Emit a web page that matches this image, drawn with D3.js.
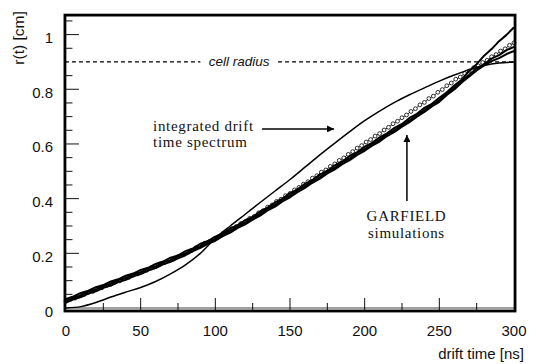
<!DOCTYPE html>
<html>
<head>
<meta charset="utf-8">
<script src="https://cdn.jsdelivr.net/npm/d3@7"></script>
<style>
  html, body { margin: 0; padding: 0; background: #fff; }
  svg { display: block; }
</style>
</head>
<body>
<svg id="chart" width="536" height="364"></svg>
<script>
// ---- Data -------------------------------------------------------------
// Integrated drift-time spectrum r(t)
const spectrumTime = [0,10,20,30,40,50,60,70,80,90,100,110,120,130,140,150,160,170,180,190,200,210,220,230,240,250,260,270,280,290,300];
const spectrumR = [0,0.005,0.02,0.04,0.058,0.075,0.097,0.125,0.158,0.2,0.255,0.3,0.343,0.386,0.428,0.47,0.515,0.56,0.603,0.645,0.685,0.72,0.752,0.78,0.805,0.83,0.852,0.872,0.887,0.896,0.9];

// GARFIELD simulations (solid, noisy curves)
const garfieldTime = [0,5,10,15,20,25,30,35,40,45,50,55,60,65,70,75,80,85,90,95,100,105,110,115,120,125,130,135,140,145,150,155,160,165,170,175,180,185,190,195,200,205,210,215,220,225,230,235,240,245,250,255,260,265,270,275,280,285,290,295,300];
const garfieldLow = [0.020,0.032,0.040,0.053,0.061,0.074,0.082,0.095,0.103,0.116,
  0.124,0.137,0.146,0.160,0.169,0.182,0.193,0.208,0.220,0.235,
  0.246,0.263,0.276,0.293,0.306,0.323,0.338,0.357,0.371,0.390,
  0.405,0.424,0.439,0.458,0.473,0.492,0.507,0.526,0.541,0.560,
  0.575,0.594,0.609,0.629,0.644,0.663,0.680,0.700,0.717,0.737,
  0.754,0.779,0.799,0.825,0.847,0.869,0.887,0.903,0.914,0.929,0.940];
const garfieldMid = [0.024,0.038,0.046,0.060,0.067,0.081,0.088,0.102,0.109,0.123,
  0.130,0.144,0.152,0.167,0.175,0.189,0.199,0.215,0.226,0.242,
  0.252,0.270,0.282,0.300,0.312,0.330,0.344,0.364,0.377,0.397,
  0.411,0.431,0.445,0.465,0.479,0.499,0.513,0.533,0.547,0.567,
  0.581,0.601,0.615,0.636,0.650,0.670,0.686,0.707,0.723,0.744,
  0.760,0.786,0.805,0.832,0.853,0.876,0.892,0.912,0.925,0.943,0.955];
const garfieldHigh = [0.033,0.042,0.055,0.063,0.076,0.084,0.097,0.105,0.118,0.126,
  0.139,0.147,0.161,0.170,0.184,0.192,0.208,0.218,0.235,0.245,
  0.261,0.273,0.291,0.303,0.321,0.333,0.353,0.367,0.386,0.400,
  0.420,0.434,0.454,0.468,0.488,0.502,0.522,0.536,0.556,0.570,
  0.590,0.604,0.624,0.639,0.659,0.673,0.695,0.710,0.732,0.747,
  0.769,0.789,0.814,0.835,0.867,0.892,0.923,0.947,0.976,0.999,1.027];

// GARFIELD simulation drawn with open circles
const circleTime = [0,3,6,9,12,15,18,21,24,27,30,33,36,39,42,45,48,51,54,57,60,63,66,69,72,75,78,81,84,87,90,93,96,99,
  102,105,108,111,114,117,120,123,126,129,132,135,138,141,144,147,150,153,156,159,162,165,168,171,174,177,180,183,186,189,192,195,198,
  201,204,207,210,213,216,219,222,225,228,231,234,237,240,243,246,249,252,255,258,261,264,267,270,273,276,279,282,285,288,291,294,297,300];
const circleR = [0.025,0.032,0.036,0.045,0.049,0.057,0.061,0.070,0.074,
  0.082,0.087,0.095,0.099,0.107,0.112,0.120,0.125,
  0.133,0.138,0.147,0.152,0.161,0.166,0.174,0.179,0.188,
  0.194,0.204,0.210,0.220,0.227,0.237,0.243,0.253,
  0.260,0.272,0.279,0.290,0.298,0.309,0.316,0.328,
  0.335,0.348,0.356,0.369,0.377,0.390,0.398,0.411,0.419,
  0.432,0.441,0.453,0.462,0.475,0.484,0.497,0.505,
  0.518,0.527,0.540,0.549,0.562,0.572,0.585,0.594,
  0.607,0.616,0.629,0.638,0.651,0.661,0.674,0.683,0.696,
  0.706,0.719,0.729,0.743,0.752,0.766,0.775,0.789,
  0.799,0.813,0.823,0.837,0.845,0.858,0.867,
  0.879,0.886,0.898,0.906,0.919,0.927,0.940,0.948,0.961,0.970];

const cellRadius = 0.9;

// Axes ticks
const xTickLabels = [0,50,100,150,200,250,300];
const xMinorTicks = [25,75,125,175,225,275];
const yTickLabels = [0,0.2,0.4,0.6,0.8,1];
const yMinorTicks = [0.05,0.1,0.15,0.25,0.3,0.35,0.45,0.5,0.55,0.65,0.7,0.75,0.85,0.95,1.05];

// ---- Scales -----------------------------------------------------------
const svg = d3.select("#chart");
const x = d3.scaleLinear().domain([0, 300]).range([66, 514]);
const y = d3.scaleLinear().domain([0, 1]).range([308, 34.6]);
const frame = { t0: -0.7, t1: 300.7, r0: -0.011, r1: 1.0713 };

const sans = "'Liberation Sans', Arial, Helvetica, sans-serif";
const serif = "'Liberation Serif', 'Times New Roman', serif";

// zero baseline
svg.append("line")
  .attr("x1", x(frame.t0)).attr("x2", x(frame.t1))
  .attr("y1", y(0)).attr("y2", y(0))
  .attr("stroke", "#a0a0a0").attr("stroke-width", 2);

// y ticks (drawn from the left frame inward)
const yt = svg.append("g");
yt.selectAll(".ymaj").data(yTickLabels.filter(d => d > 0)).join("line")
  .attr("x1", x(frame.t0)).attr("x2", x(frame.t0) + 14)
  .attr("y1", d => y(d)).attr("y2", d => y(d))
  .attr("stroke", "#111").attr("stroke-width", 1);
yt.selectAll(".ymin").data(yMinorTicks).join("line")
  .attr("x1", x(frame.t0)).attr("x2", x(frame.t0) + 7.5)
  .attr("y1", d => y(d)).attr("y2", d => y(d))
  .attr("stroke", "#111").attr("stroke-width", 1);
yt.selectAll("text").data(yTickLabels).join("text")
  .attr("x", 53).attr("y", d => y(d) + 8.5)
  .attr("text-anchor", "end")
  .attr("font-family", sans).attr("font-size", 15).attr("fill", "#111")
  .text(d => d === 0 ? "0" : d === 1 ? "1" : d3.format(".1f")(d));

// x ticks (drawn from the bottom frame upward)
const xt = svg.append("g");
xt.selectAll(".xmaj").data(xTickLabels.filter(d => d > 0 && d < 300)).join("line")
  .attr("x1", d => x(d)).attr("x2", d => x(d))
  .attr("y1", y(frame.r0)).attr("y2", y(frame.r0) - 13)
  .attr("stroke", "#111").attr("stroke-width", 1);
xt.selectAll(".xmin").data(xMinorTicks).join("line")
  .attr("x1", d => x(d)).attr("x2", d => x(d))
  .attr("y1", y(frame.r0)).attr("y2", y(frame.r0) - 8)
  .attr("stroke", "#111").attr("stroke-width", 1);
xt.selectAll("text").data(xTickLabels).join("text")
  .attr("x", d => x(d)).attr("y", 336)
  .attr("text-anchor", "middle")
  .attr("font-family", sans).attr("font-size", 15).attr("fill", "#111")
  .text(d => d);

// cell radius dashed line with a gap for its label
const gapT = [90, 142];
[[frame.t0, gapT[0]], [gapT[1], frame.t1]].forEach(([a, b]) => {
  svg.append("line")
    .attr("x1", x(a)).attr("x2", x(b))
    .attr("y1", y(cellRadius)).attr("y2", y(cellRadius))
    .attr("stroke", "#000").attr("stroke-width", 1.3)
    .attr("stroke-dasharray", "4,3");
});
svg.append("text")
  .attr("x", x((gapT[0] + gapT[1]) / 2)).attr("y", y(cellRadius) + 4.5)
  .attr("text-anchor", "middle")
  .attr("font-family", sans).attr("font-style", "italic")
  .attr("font-size", 13.5).attr("fill", "#111")
  .text("cell radius");

// ---- Curves -----------------------------------------------------------
const line = d3.line().x(d => x(d[0])).y(d => y(d[1]));
const zip = (ts, rs) => ts.map((t, i) => [t, rs[i]]);

// open-circle simulation first, so the solid band covers it where they coincide
const circlePts = zip(circleTime, circleR);
svg.append("path")
  .datum(circlePts)
  .attr("d", line)
  .attr("fill", "none").attr("stroke", "#000").attr("stroke-width", 0.8);
svg.append("g").selectAll("circle").data(circlePts).join("circle")
  .attr("cx", d => x(d[0])).attr("cy", d => y(d[1]))
  .attr("r", 1.9)
  .attr("fill", "#fff").attr("stroke", "#000").attr("stroke-width", 0.8);

[garfieldLow, garfieldMid, garfieldHigh].forEach(rs => {
  svg.append("path")
    .datum(zip(garfieldTime, rs))
    .attr("d", line)
    .attr("fill", "none").attr("stroke", "#000")
    .attr("stroke-width", 2).attr("stroke-linejoin", "round");
});

svg.append("path")
  .datum(zip(spectrumTime, spectrumR))
  .attr("d", line.curve(d3.curveMonotoneX))
  .attr("fill", "none").attr("stroke", "#000").attr("stroke-width", 1.5);

// ---- Frame ------------------------------------------------------------
svg.append("rect")
  .attr("x", x(frame.t0)).attr("y", y(frame.r1))
  .attr("width", x(frame.t1) - x(frame.t0))
  .attr("height", y(frame.r0) - y(frame.r1))
  .attr("fill", "none").attr("stroke", "#000").attr("stroke-width", 2.8);

// ---- Annotations --------------------------------------------------------
const defs = svg.append("defs");
defs.append("marker")
  .attr("id", "head").attr("viewBox", "0 0 10 10")
  .attr("refX", 10).attr("refY", 5)
  .attr("markerWidth", 9).attr("markerHeight", 7)
  .attr("markerUnits", "userSpaceOnUse")
  .attr("orient", "auto")
  .append("path").attr("d", "M0,0 L10,5 L0,10 Z").attr("fill", "#000");

svg.append("line")
  .attr("x1", x(131.3)).attr("y1", y(0.655))
  .attr("x2", x(179.5)).attr("y2", y(0.655))
  .attr("stroke", "#000").attr("stroke-width", 1.5)
  .attr("marker-end", "url(#head)");
svg.append("line")
  .attr("x1", x(228.3)).attr("y1", y(0.391))
  .attr("x2", x(228.3)).attr("y2", y(0.633))
  .attr("stroke", "#000").attr("stroke-width", 1.5)
  .attr("marker-end", "url(#head)");

const noteStyle = sel => sel
  .attr("font-family", serif).attr("font-size", 15)
  .attr("letter-spacing", 0.7).attr("fill", "#111");

svg.append("text").call(noteStyle)
  .attr("x", x(58.3)).attr("y", y(0.647))
  .text("integrated drift");
svg.append("text").call(noteStyle)
  .attr("x", x(58.3)).attr("y", y(0.590))
  .text("time spectrum");

svg.append("text").call(noteStyle)
  .attr("x", x(228)).attr("y", y(0.318))
  .attr("text-anchor", "middle")
  .text("GARFIELD");
svg.append("text").call(noteStyle)
  .attr("x", x(228)).attr("y", y(0.255))
  .attr("text-anchor", "middle")
  .text("simulations");

// ---- Axis titles ------------------------------------------------------
svg.append("text")
  .attr("x", 524).attr("y", 359)
  .attr("text-anchor", "end")
  .attr("font-family", sans).attr("font-size", 15).attr("fill", "#111")
  .text("drift time [ns]");
svg.append("text")
  .attr("transform", "translate(24,38) rotate(-90)")
  .attr("text-anchor", "middle")
  .attr("font-family", sans).attr("font-size", 15.5).attr("fill", "#111")
  .text("r(t) [cm]");
</script>
</body>
</html>
